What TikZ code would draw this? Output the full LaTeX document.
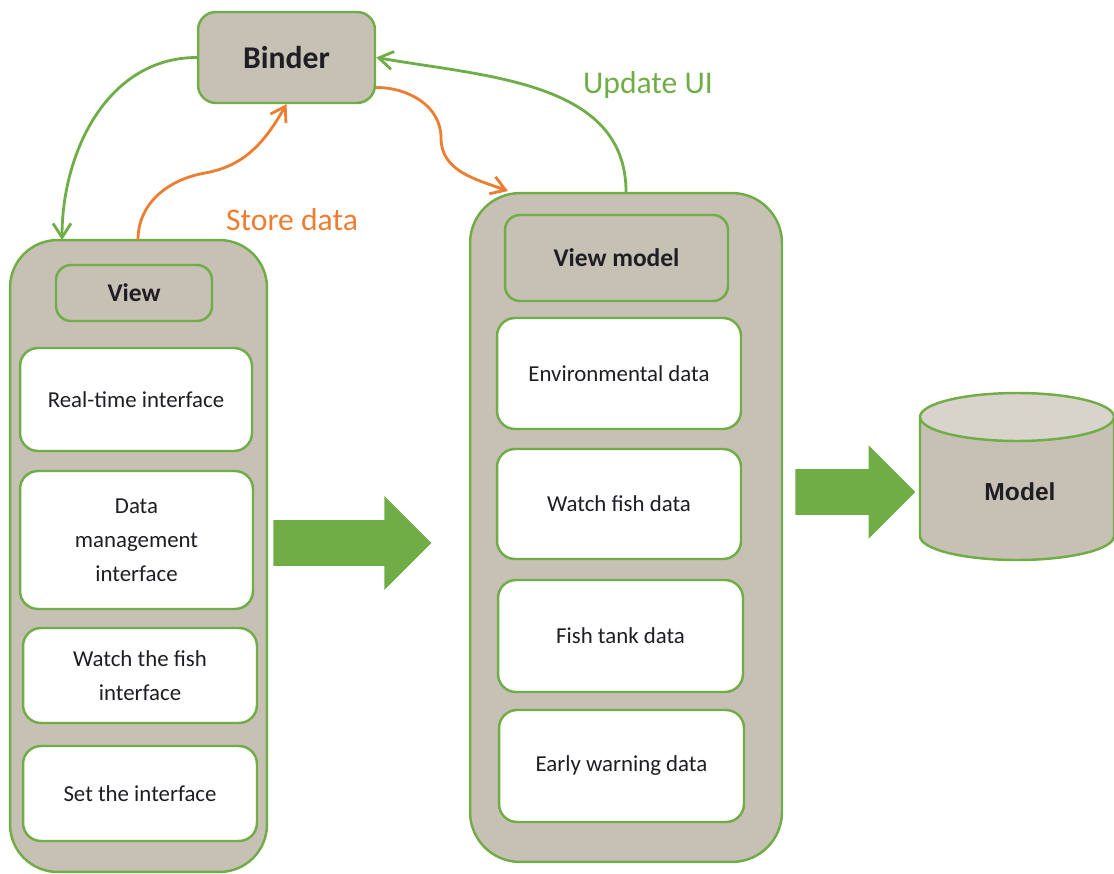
\documentclass[tikz,border=0pt]{standalone}
\usepackage{fontspec}
\setmainfont{Carlito}
\newfontfamily\arialfont{Liberation Sans}
\usetikzlibrary{shapes.arrows,arrows.meta}
\definecolor{mvgreen}{HTML}{70AD47}
\definecolor{mvorange}{HTML}{ED7D31}
\definecolor{mvgray}{HTML}{C7C0B4}
\definecolor{mvlight}{HTML}{D8D3CB}
\definecolor{mvtext}{HTML}{1E1E24}
\tikzset{
  panel/.style={draw=mvgreen, line width=1.4pt, fill=mvgray, rounded corners=0.95cm, inner sep=0pt},
  tile/.style={draw=mvgreen, line width=1.4pt, fill=white, rounded corners=0.36cm, inner sep=0pt,
    align=center, text=mvtext, font=\fontsize{13}{19.3}\selectfont},
  header/.style={draw=mvgreen, line width=1.4pt, fill=mvgray, rounded corners=0.3cm, inner sep=0pt,
    text=mvtext, font=\fontsize{14.5}{17}\selectfont\bfseries},
  link/.style={line width=1.6pt, -{Straight Barb[length=2.8mm,width=3.6mm]}},
  bigarrow/.style={single arrow, fill=mvgreen, draw=none, inner xsep=0pt, inner ysep=0.45cm,
    single arrow head extend=0.48cm, anchor=tail}
}
\begin{document}
\begin{tikzpicture}[x=0.02cm, y=0.02cm]
    \useasboundingbox (0,0) rectangle (1114,873);

    % Nodes
    \node (binder) [header, rounded corners=0.36cm, minimum width=3.54cm, minimum height=1.82cm,
      font=\fontsize{18}{21}\selectfont\bfseries] at (286.5,815.5) {Binder};

    \node (view) [panel, minimum width=5.14cm, minimum height=12.64cm] at (138.5,317) {};
    \node (viewtitle) [header, minimum width=3.12cm, minimum height=1.12cm] at (134,580) {View};
    \node (realtime) [tile, minimum width=4.64cm, minimum height=2.06cm] at (136,473.5) {Real-time interface};
    \node (datamgmt) [tile, minimum width=4.66cm, minimum height=2.76cm] at (136.5,333) {Data\\management\\interface};
    \node (watchfish) [tile, minimum width=4.68cm, minimum height=1.90cm] at (140,197.5) {Watch the fish\\interface};
    \node (setintf) [tile, minimum width=4.68cm, minimum height=1.90cm] at (140,79.5) {Set the interface};

    \node (vm) [panel, rounded corners=1cm, minimum width=6.24cm, minimum height=13.38cm] at (626,345.5) {};
    \node (vmtitle) [header, minimum width=4.46cm, minimum height=1.72cm] at (616.5,615) {View model};
    \node (envdata) [tile, minimum width=4.88cm, minimum height=2.22cm] at (619,499.5) {Environmental data};
    \node (fishdata) [tile, minimum width=4.88cm, minimum height=2.20cm] at (619,369) {Watch fish data};
    \node (tankdata) [tile, minimum width=4.90cm, minimum height=2.24cm] at (620.5,237) {Fish tank data};
    \node (warndata) [tile, minimum width=4.90cm, minimum height=2.24cm] at (621.5,107) {Early warning data};

    \node (toview) [bigarrow, minimum height=3.16cm] at (273,330) {};
    \node (tomodel) [bigarrow, minimum height=2.40cm] at (795,381) {};

    % Model store
    \fill[mvgray] (920,456) -- (920,337) arc[start angle=180, end angle=360, x radius=1.94cm, y radius=0.48cm]
      -- (1114,456) -- cycle;
    \draw[draw=mvgreen, line width=1.4pt, fill=mvlight] (1017,456) ellipse [x radius=1.94cm, y radius=0.48cm];
    \draw[draw=mvgreen, line width=1.4pt] (920,456) -- (920,337)
      arc[start angle=180, end angle=360, x radius=1.94cm, y radius=0.48cm] -- (1114,456);
    \node (model) [text=mvtext, font=\arialfont\fontsize{14}{17}\selectfont\bfseries] at (1020,381) {Model};

    % Edges
    \coordinate (viewin) at (62,633);
    \coordinate (storeout) at (138,633);
    \coordinate (storemid) at (205,700);
    \coordinate (flowmid) at (441,735);
    \coordinate (vmin) at (508,682);

    \draw[link, mvgreen] (binder.west) to[out=180, in=90] (viewin);
    \draw[link, mvorange] (storeout) to[out=90, in=190] (storemid) to[out=10, in=240] (binder.south);
    \draw[link, mvorange] ([yshift=-0.6cm]binder.east) to[out=0, in=90] (flowmid) to[out=-90, in=160] (vmin);
    \draw[link, mvgreen] (vm.north) to[out=90, in=-10] (binder.east);

    \node (storelabel) [text=mvorange, font=\fontsize{18}{21}\selectfont] at (292,653) {Store data};
    \node (updatelabel) [text=mvgreen, font=\fontsize{18}{21}\selectfont] at (648,788) {Update UI};

\end{tikzpicture}
\end{document}
